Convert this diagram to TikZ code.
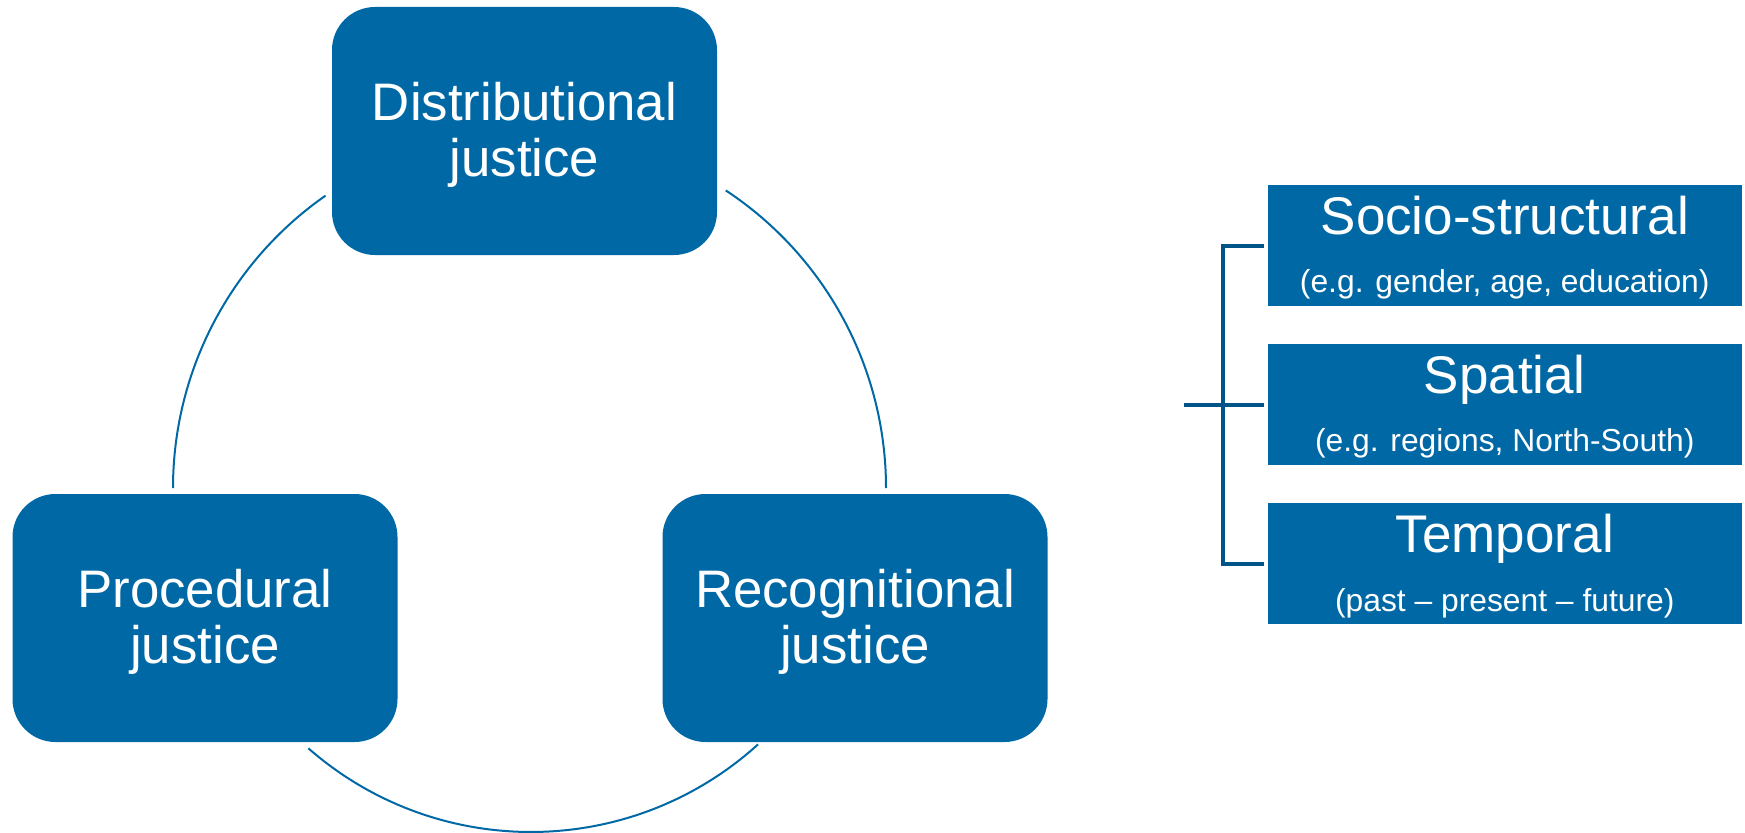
\documentclass[tikz,border=0pt]{standalone}
\usepackage{fontspec}
\setmainfont{Liberation Sans}
\definecolor{boxblue}{RGB}{0,105,165}
\definecolor{brackblue}{RGB}{0,84,135}
\begin{document}
\begin{tikzpicture}[x=0.5pt,y=0.5pt,
  bigbox/.style={fill=boxblue, rounded corners=21.5pt, minimum width=192.5pt, minimum height=124pt, inner sep=0pt},
  bigtext/.style={text=white, align=center, inner sep=0pt, font=\fontsize{26.4}{28}\selectfont},
  sidebox/.style={fill=boxblue, minimum width=236.75pt, minimum height=60.5pt, inner sep=0pt},
  titletext/.style={text=white, anchor=base, inner sep=0pt, font=\fontsize{26.5}{30}\selectfont},
  subtext/.style={text=white, anchor=base, inner sep=0pt, font=\fontsize{15.9}{18}\selectfont},
  cyclearc/.style={draw=boxblue, line width=1pt},
  bracket/.style={draw=brackblue, line width=2pt}]
\useasboundingbox (0,0) rectangle (1745,832);

% cycle boxes
\node[bigbox] (dist) at (524.5,701) {};
\node[bigbox] (proc) at (205,214) {};
\node[bigbox] (reco) at (855,214) {};
\node[bigtext] (distt) at ([yshift=-2pt]dist.center) {Distributional\\justice};
\node[bigtext] (proct) at ([yshift=-2pt]proc.center) {Procedural\\justice};
\node[bigtext] (recot) at ([yshift=-2pt]reco.center) {Recognitional\\justice};

% arcs
\coordinate (ctop) at (529.5,344);
\coordinate (cbot) at (531,338);
\draw[cyclearc] (ctop) ++(124.9:178.25pt) arc[start angle=124.9, end angle=180, radius=178.25pt];
\draw[cyclearc] (ctop) ++(56.6:178.25pt) arc[start angle=56.6, end angle=0, radius=178.25pt];
\draw[cyclearc] (cbot) ++(-131.2:169pt) arc[start angle=-131.2, end angle=-47.8, radius=169pt];

% side boxes
\node[sidebox] (socio) at (1504.75,586.5) {};
\node[sidebox] (spat) at (1504.75,427.5) {};
\node[sidebox] (temp) at (1504.75,268.5) {};

\node[titletext] (sociot) at (1504.75,597.5) {Socio-structural};
\node[subtext] (socios) at (1504.75,540) {(e.g. gender, age, education)};
\node[titletext] (spatt) at (1504.75,439) {Spatial};
\node[subtext] (spats) at (1504.75,380.5) {(e.g. regions, North-South)};
\node[titletext] (tempt) at (1504.75,280) {Temporal};
\node[subtext] (temps) at (1504.75,221) {(past \textendash{} present \textendash{} future)};

% bracket
\coordinate (tick) at (1184,427.5);
\draw[bracket, shorten <=2pt, shorten >=2pt] (socio.west) -- ++(-45,0) |- (temp.west);
\draw[bracket, shorten >=2pt] (tick) -- (spat.west);
\end{tikzpicture}
\end{document}
